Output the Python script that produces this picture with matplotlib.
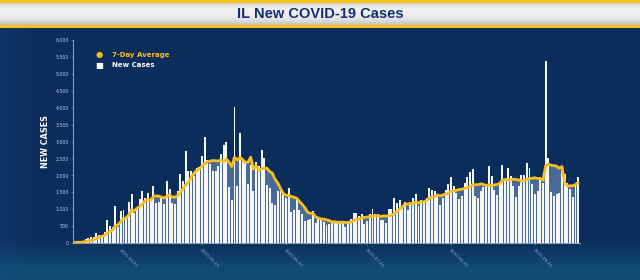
import numpy as np
import pandas as pd
import matplotlib
matplotlib.use('Agg')
import matplotlib.pyplot as plt
from matplotlib.colors import LinearSegmentedColormap, to_rgb
from matplotlib.ticker import FuncFormatter, MultipleLocator

# daily new cases (Mar 15 .. Sep 17, 2020)
mar = [18, 29, 12, 55, 128, 134, 163, 168, 296, 236, 250, 330, 673, 488, 465, 1105, 461]
apr = [937, 986, 715, 1209, 1453, 899, 1006, 1287, 1529, 1344, 1465, 1293, 1672, 1173, 1222,
       1346, 1140, 1842, 1585, 1197, 1151, 1551, 2049, 1826, 2724, 2119, 2126, 1980, 2219, 2253]
may = [2563, 3137, 2450, 2341, 2122, 2122, 2270, 2641, 2887, 2994, 1656, 1266, 4014, 1677, 3239,
       2432, 2373, 1734, 2294, 1545, 2388, 2268, 2758, 2508, 1713, 1625, 1178, 1111, 1527, 1622, 1462]
jun = [1343, 1614, 929, 982, 1298, 975, 866, 658, 668, 697, 944, 595, 731, 672, 625,
       533, 548, 658, 631, 636, 660, 636, 462, 608, 715, 894, 873, 787, 869, 566]
jul = [641, 869, 1004, 868, 850, 677, 687, 588, 1018, 1018, 1317, 1173, 1257, 1078, 1204,
       990, 1187, 1317, 1456, 1084, 1283, 1173, 1321, 1624, 1565, 1528, 1426, 1122, 1340, 1575, 1757]
aug = [1941, 1686, 1467, 1298, 1393, 1759, 1953, 2084, 2190, 1382, 1319, 1549, 1645, 1702, 2264,
       1977, 1562, 1407, 1773, 2295, 1867, 2208, 1976, 1673, 1361, 1687, 2024, 2021, 2356, 2216, 1740]
sep = [1452, 1529, 1950, 1763, 5368, 2500, 1514, 1382, 1453, 1471, 2145, 2028, 1764, 1598, 1373, 1697, 1941]

new_cases = mar + apr + may + jun + jul + aug + sep
dates = pd.date_range('2020-03-15', periods=len(new_cases), freq='D')
tick_labels = ['2020-04-01', '2020-05-01', '2020-06-01', '2020-07-01', '2020-08-01', '2020-09-01']

cases = pd.Series(new_cases, index=dates)
avg = cases.rolling(7, min_periods=1).mean()

W, H = 640, 280
fig = plt.figure(figsize=(6.4, 2.8), dpi=100)
fig.patch.set_facecolor('#0a2d5b')

# page background (dark navy, lighter band at the bottom)
bg = fig.add_axes([0, 0, 1, 1], zorder=0)
yy = np.linspace(0, 1, H)[:, None]
xx = np.linspace(0, 1, W)[None, :]
mid = np.array(to_rgb('#0a2d5c'))
low = np.array(to_rgb('#114a72'))
t = np.clip((yy - 0.86) / 0.1, 0, 1)
img = np.broadcast_to(mid, (H, W, 3)).copy()
img = img * (1 - t[..., None]) + low * t[..., None]
side = np.clip(1 - xx / 0.06, 0, 1)[..., None] * 0.25
img = img * (1 - side) + np.array(to_rgb('#1b4f86')) * side
bg.imshow(img, aspect='auto', extent=[0, 1, 0, 1], origin='upper')
bg.set_axis_off()

# title banner
banner = fig.add_axes([0, 1 - 28 / H, 1, 28 / H], zorder=1)
cmap = LinearSegmentedColormap.from_list('bn', ['#c9c9c9', '#f4f4f4', '#e6e6e6', '#b4b4b4'])
banner.imshow(np.linspace(0, 1, 50)[:, None], aspect='auto', cmap=cmap, extent=[0, 1, 0, 1])
banner.axhspan(0.93, 1.0, color='#f7c21d')
banner.axhspan(0.0, 0.09, color='#f7c21d')
banner.set_xlim(0, 1)
banner.set_ylim(0, 1)
banner.set_axis_off()
banner.text(0.5, 0.5, 'IL New COVID-19 Cases', ha='center', va='center',
            fontsize=10.5, fontweight='bold', color='#102f73', family='Liberation Sans')

# chart
ax = fig.add_axes([73 / W, 37 / H, 507 / W, 203 / H], zorder=2)
ax.set_facecolor('none')
ax.fill_between(dates, avg, color='#4a6b95', lw=0, zorder=2)
ax.bar(dates, new_cases, width=0.72, color='#f7f8fa', zorder=3)
ax.plot(dates, avg, color='#fbbd1e', lw=2.0, zorder=4, solid_capstyle='round')

ax.set_ylim(0, 6000)
ax.set_xlim(dates[0] - pd.Timedelta(hours=16), dates[-1] + pd.Timedelta(hours=16))
ax.yaxis.set_major_locator(MultipleLocator(500))
ax.yaxis.set_major_formatter(FuncFormatter(lambda v, p: f'{int(v):,}'))
ax.set_xticks(pd.to_datetime(tick_labels))
ax.set_xticklabels(tick_labels, rotation=-45, ha='left', va='top', rotation_mode='anchor')

for s in ['top', 'right']:
    ax.spines[s].set_visible(False)
for s in ['left', 'bottom']:
    ax.spines[s].set_color('#8a9cb8')
    ax.spines[s].set_linewidth(0.8)
ax.tick_params(axis='y', colors='#8a9cb8', labelcolor='#c3ccd9', labelsize=3.4, length=1.5, width=0.5, pad=1.5)
ax.tick_params(axis='x', colors='#8a9cb8', labelcolor='#9aabc3', labelsize=3.2, length=1.5, width=0.5, pad=2)

ax.set_ylabel('NEW CASES', color='white', fontsize=5.8, fontweight='bold')
ax.yaxis.set_label_coords(-23 / 507, 0.5)

# legend
fig.text(99 / W, 1 - 55 / H, '\u25CF', color='#fbbd1e', fontsize=6, ha='center', va='center')
fig.text(99 / W, 1 - 65 / H, '\u25A0', color='white', fontsize=6, ha='center', va='center')
fig.text(112 / W, 1 - 55 / H, '7-Day Average', color='#fbbd1e', fontsize=5, fontweight='bold', va='center')
fig.text(112 / W, 1 - 65 / H, 'New Cases', color='white', fontsize=5, fontweight='bold', va='center')

fig.savefig('out.png', dpi=100, facecolor=fig.get_facecolor())
